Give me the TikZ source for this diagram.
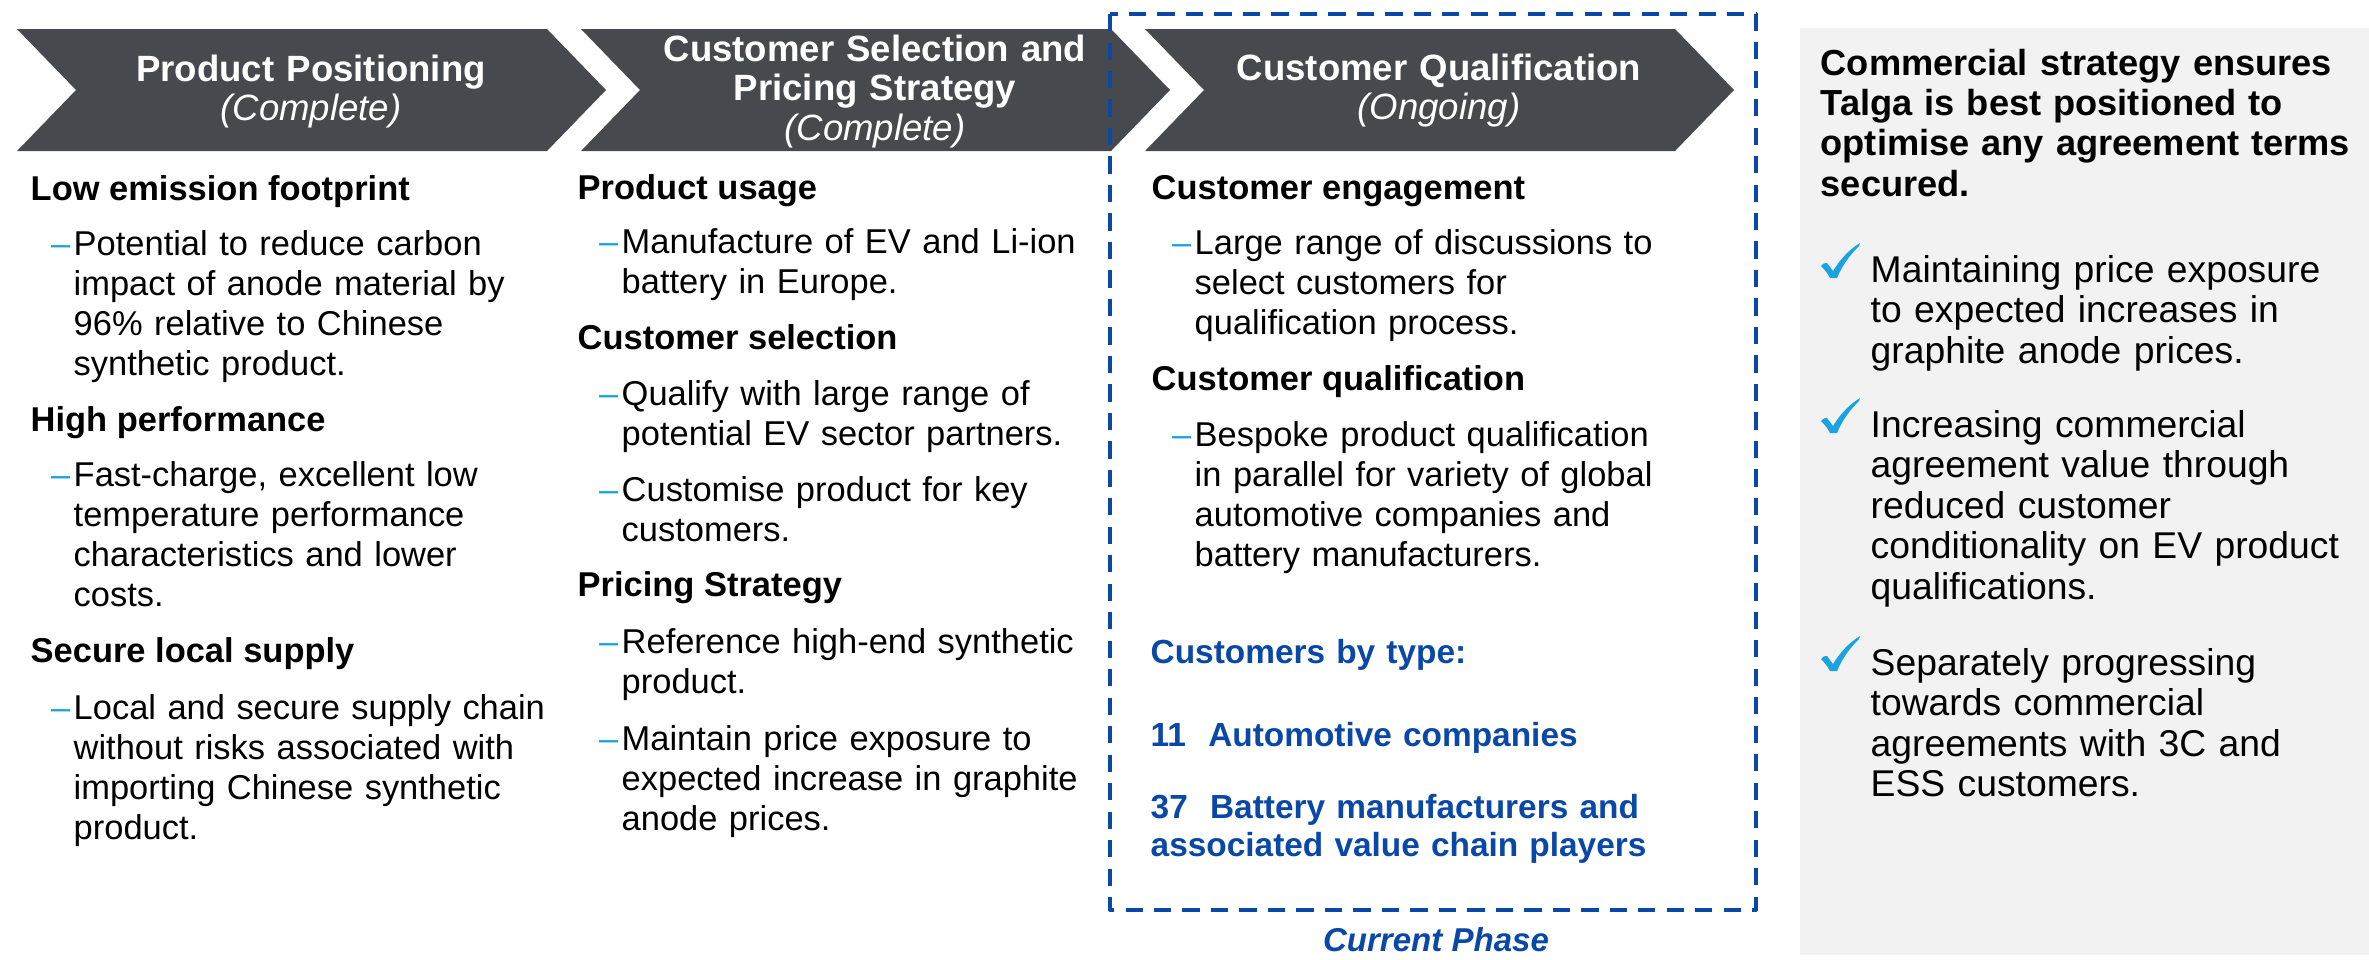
\documentclass[tikz,border=0pt]{standalone}
\usepackage{fontspec}
\setmainfont{Liberation Sans}
\definecolor{chevgray}{HTML}{46494E}
\definecolor{boxgray}{HTML}{F2F2F2}
\definecolor{talgablue}{HTML}{0A48A8}
\definecolor{lightblue}{HTML}{1AA3DF}
\newcommand\dashb{\leavevmode\llap{\textcolor{lightblue}{–}\hspace{1pt}}}
\begin{document}
\begin{tikzpicture}[x=0.01cm,y=-0.01cm,line join=round,
	chev/.style={fill=chevgray},
	ttl/.style={text=white,font=\fontsize{10.4}{11.3}\selectfont\bfseries,align=center,text width=5cm,anchor=base,inner sep=0},
	hd/.style={font=\fontsize{9.8}{11.4}\selectfont\bfseries,anchor=base west,inner sep=0},
	bl/.style={font=\fontsize{9.8}{11.38}\selectfont,align=left,text width=5.3cm,anchor=base west,inner sep=0},
	bluet/.style={text=talgablue,font=\fontsize{9.5}{10.8}\selectfont\bfseries,align=left,text width=6cm,anchor=base west,inner sep=0},
	phase/.style={draw=talgablue,line width=1.15pt,dash pattern=on 4.9pt off 3.2pt},
	chk/.pic={\fill[lightblue] (-49,-16) .. controls (-46,-19) .. (-43,-19) -- (-37,-11) .. controls (-29,-24) and (-20,-33) .. (-10,-39) -- (-11,-36) .. controls (-21,-26) and (-28,-16) .. (-33,-4) -- (-40,-4) .. controls (-42,-8) and (-45,-12) .. cycle;}]
	%==Thông số
	\def\cw{530}
	\def\cd{59}
	%==============
	\useasboundingbox (0,0) rectangle (2369,959);
	\fill[boxgray] (1800,28) rectangle (2369,955);
	\foreach \L in {17,581,1145}\fill[chev] (\L,29)--++(\cw,0)--++(\cd,61)--++(-\cd,61)--++(-\cw,0)--++(\cd,-61)--cycle;
	\node[ttl] (s1) at (311,81) {Product Positioning\\{\mdseries\itshape (Complete)}};
	\node[ttl] (s2) at (875,61) {Customer Selection and\\Pricing Strategy\\{\mdseries\itshape (Complete)}};
	\node[ttl] (s3) at (1439,80) {Customer Qualification\\{\mdseries\itshape (Ongoing)}};
	\draw[phase] (1110,14) rectangle (1756,910);
	\node[text=talgablue,font=\fontsize{9.4}{11}\selectfont\bfseries\itshape,anchor=base,inner sep=0] (cur) at (1436,951) {Current Phase};
	%==Cột 1
	\node[hd] (h11) at (30,200) {Low emission footprint};
	\node[bl] (b11) at (73,255) {\dashb Potential to reduce carbon\\impact of anode material by\\96\% relative to Chinese\\synthetic product.};
	\node[hd] (h12) at (30,431) {High performance};
	\node[bl] (b12) at (73,486) {\dashb Fast-charge, excellent low\\temperature performance\\characteristics and lower\\costs.};
	\node[hd] (h13) at (30,662) {Secure local supply};
	\node[bl] (b13) at (73,719) {\dashb Local and secure supply chain\\without risks associated with\\importing Chinese synthetic\\product.};
	%==Cột 2
	\node[hd] (h21) at (577,199) {Product usage};
	\node[bl] (b21) at (621,253) {\dashb Manufacture of EV and Li-ion\\battery in Europe.};
	\node[hd] (h22) at (577,349) {Customer selection};
	\node[bl] (b22) at (621,405) {\dashb Qualify with large range of\\potential EV sector partners.};
	\node[bl] (b23) at (621,501) {\dashb Customise product for key\\customers.};
	\node[hd] (h23) at (577,596) {Pricing Strategy};
	\node[bl] (b24) at (621,653) {\dashb Reference high-end synthetic\\product.};
	\node[bl] (b25) at (621,750) {\dashb Maintain price exposure to\\expected increase in graphite\\anode prices.};
	%==Cột 3
	\node[hd] (h31) at (1151,199) {Customer engagement};
	\node[bl] (b31) at (1194,254) {\dashb Large range of discussions to\\select customers for\\qualification process.};
	\node[hd] (h32) at (1151,390) {Customer qualification};
	\node[bl] (b32) at (1194,446) {\dashb Bespoke product qualification\\in parallel for variety of global\\automotive companies and\\battery manufacturers.};
	\node[bluet] (ct) at (1150,663) {Customers by type:};
	\node[bluet] (n11) at (1150,746) {11\ \ Automotive companies};
	\node[bluet] (n37) at (1150,818) {37\ \ Battery manufacturers and\\associated value chain players};
	%==Hộp xám
	\node[font=\fontsize{10.3}{11.47}\selectfont\bfseries,align=left,text width=5.6cm,anchor=base west,inner sep=0] (tt) at (1820,75) {Commercial strategy ensures\\Talga is best positioned to\\optimise any agreement terms\\secured.};
	\foreach \n/\y/\s in {c1/282/{Maintaining price exposure\\to expected increases in\\graphite anode prices.},c2/437/{Increasing commercial\\agreement value through\\reduced customer\\conditionality on EV product\\qualifications.},c3/675/{Separately progressing\\towards commercial\\agreements with 3C and\\ESS customers.}}{
		\node[font=\fontsize{10.6}{11.52}\selectfont,align=left,text width=5cm,anchor=base west,inner sep=0] (\n) at (1870,\y) {\s};
		\pic at (\n.base west) {chk};}
\end{tikzpicture}
\end{document}
